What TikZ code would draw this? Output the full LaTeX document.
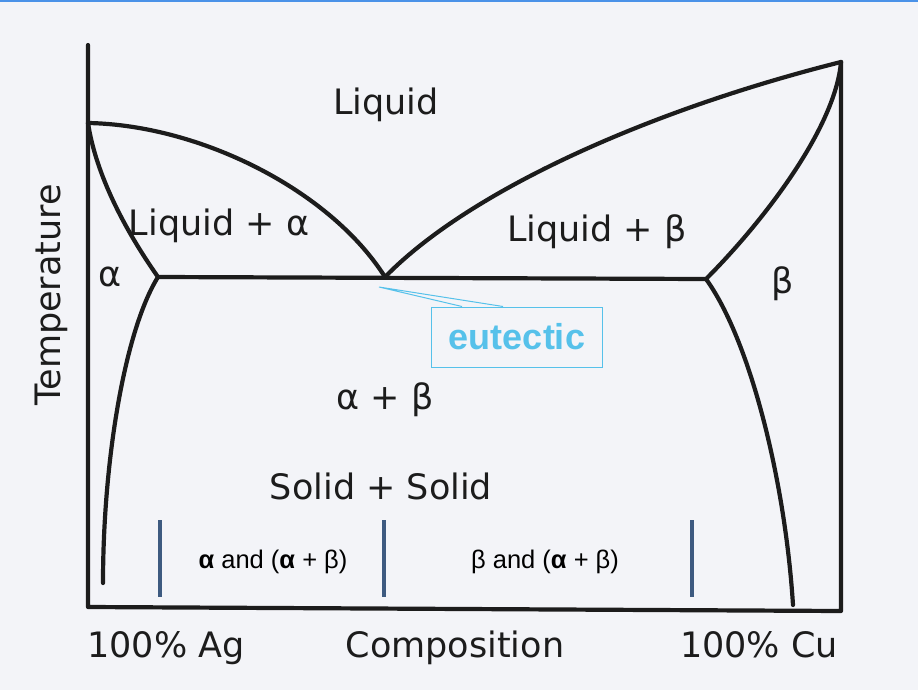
\documentclass[tikz,border=0pt]{standalone}
\usepackage{fontspec}
\setmainfont{DejaVu Sans}
\newfontfamily\arialfont{Liberation Sans}
\definecolor{ink}{HTML}{1C1C1C}
\definecolor{paper}{HTML}{F3F4F8}
\definecolor{topblue}{HTML}{4A92E8}
\definecolor{tickblue}{HTML}{3D5A80}
\definecolor{eutblue}{HTML}{56C1EA}
\tikzset{
	phase/.style={line width=4.2pt,draw=ink,line join=round,line cap=round},
	lbl/.style={font=\fontsize{35}{40}\selectfont,text=ink,inner sep=0pt,anchor=base},
	lblsmall/.style={font=\arialfont\fontsize{25.5}{28}\selectfont,text=black,inner sep=0pt,anchor=base},
	tick/.style={line width=3.4pt,draw=tickblue}
}
\begin{document}
\begin{tikzpicture}[x=1pt,y=-1pt]
		\fill[paper](0,0)rectangle(918,690);
		\fill[topblue](0,0)rectangle(918,2.5);
		\useasboundingbox (0,0) rectangle (918,690);
		\coordinate (Ag) at (88,123);
		\coordinate (Cu) at (841,62);
		\coordinate (E) at (385,277);
		\coordinate (a) at (158,277);
		\coordinate (b) at (706,279);
		\coordinate (aend) at (103,583);
		\coordinate (bend) at (793,605);
		\draw[phase](88,45)--(88,607)--(841,611)--(Cu);
		\draw[phase](Ag).. controls (200,125) and (330,190) ..(E)
			.. controls (470,190) and (650,110) ..(Cu);
		\draw[phase](Ag).. controls (96,175) and (125,230) ..(a)--(b)
			.. controls (760,225) and (835,130) ..(Cu);
		\draw[phase](a).. controls (125,330) and (103,460) ..(aend);
		\draw[phase](b).. controls (750,340) and (785,480) ..(bend);
		\foreach \x in {160,384,692}
			\draw[tick](\x,520)--(\x,597);
		\path (386,115)node[lbl](liq){Liquid}
			(219,235)node[lbl](liqa){Liquid + α}
			(597,241)node[lbl](liqb){Liquid + β}
			(110,286)node[lbl](alpha){α}
			(783,293)node[lbl](beta){β}
			(385,409)node[lbl](ab){α + β}
			(381,499)node[lbl](ss){Solid + Solid}
			(166,657)node[lbl](ag){100\% Ag}
			(455,657)node[lbl](comp){Composition}
			(759,657)node[lbl](cu){100\% Cu}
			(60,295)node[lbl,rotate=90](temp){Temperature}
			(273,568)node[lblsmall](za){{\bfseries α} and ({\bfseries α} + β)}
			(545,568)node[lblsmall](zb){β and ({\bfseries α} + β)}
			;
		\node[draw=eutblue,line width=1pt,minimum width=171pt,minimum height=60pt,inner sep=0pt,
			text=eutblue,font=\arialfont\bfseries\fontsize{36}{40}\selectfont](eut) at (517,337){eutectic};
		\coordinate (eutp) at (379,287);
		\draw[eutblue,line width=1pt]([xshift=-55pt]eut.north)--(eutp)--([xshift=-14pt]eut.north);
\end{tikzpicture}
\end{document}
